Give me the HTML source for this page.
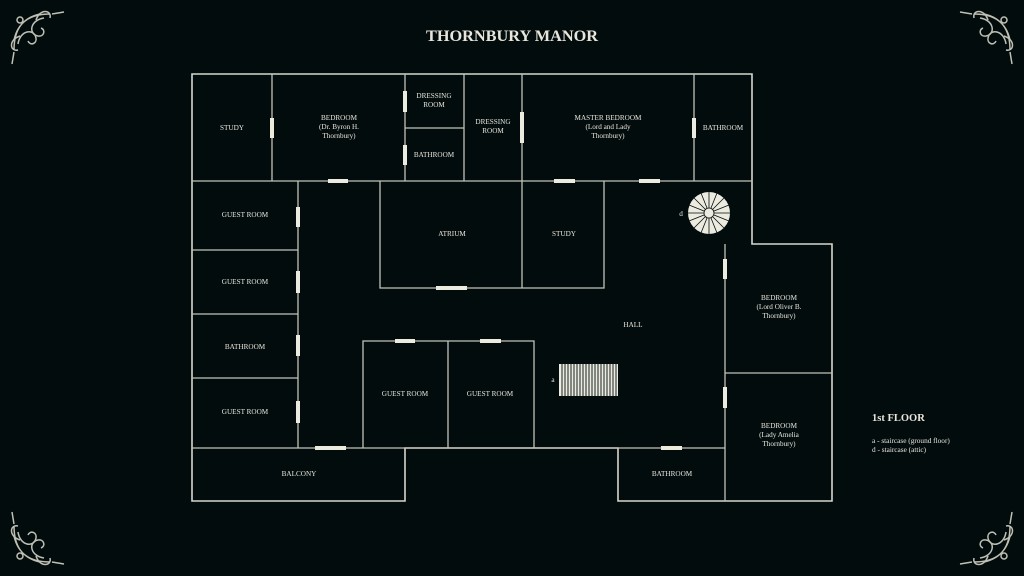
<!DOCTYPE html>
<html><head><meta charset="utf-8"><style>
html,body{margin:0;padding:0;background:#030c0d;}
svg{display:block}
text{font-family:"Liberation Serif",serif;fill:#e8e6dc;}
</style></head><body>
<svg width="1024" height="576" viewBox="0 0 1024 576" xmlns="http://www.w3.org/2000/svg">
<rect width="1024" height="576" fill="#030c0d"/>
<g id="orn" fill="none" stroke="#bfc0b4" stroke-width="1.5">
<path d="M14 50 C14 30 22 18 40 14 M50 14 C30 14 18 22 14 40"/>
<path d="M18 44 C20 30 34 28 36 38 C37 44 30 46 28 41"/>
<path d="M44 18 C30 20 28 34 38 36 C44 37 46 30 41 28"/>
<circle cx="20" cy="20" r="3"/>
<path d="M14 52 L12 64 M52 14 L64 12"/>
<path d="M20 36 C8 40 10 52 18 50 M36 20 C40 8 52 10 50 18"/>
</g>
<use href="#orn" transform="translate(1024,0) scale(-1,1)"/>
<use href="#orn" transform="translate(0,576) scale(1,-1)"/>
<use href="#orn" transform="translate(1024,576) scale(-1,-1)"/>

<text x="512" y="41" text-anchor="middle" font-size="16.3" font-weight="bold">THORNBURY MANOR</text>

<g fill="none" stroke="#c2c2b8" stroke-width="1.3">
<path d="M192 74 H752 V244 H832 V501 H618 V448 H405 V501 H192 Z" stroke="#d6d6cc" stroke-width="1.6"/>
<path d="M192 181 H752"/>
<path d="M272 74 V181 M405 74 V181 M464 74 V181 M522 74 V181 M694 74 V181 M405 128 H464"/>
<path d="M298 181 V448 M192 250 H298 M192 314 H298 M192 378 H298 M192 448 H725"/>
<path d="M380 181 V288 H604 V181 M522 181 V288"/>
<path d="M363 448 V341 H534 V448 M448 341 V448"/>
<path d="M725 244 V501 M725 373 H832"/>
</g>
<g fill="#ecebdf">
<rect x="270" y="118" width="4" height="20"/>
<rect x="403" y="91" width="4" height="21"/>
<rect x="403" y="145" width="4" height="20"/>
<rect x="520" y="112" width="4" height="31"/>
<rect x="692" y="118" width="4" height="20"/>
<rect x="328" y="179" width="20" height="4"/>
<rect x="554" y="179" width="21" height="4"/>
<rect x="639" y="179" width="21" height="4"/>
<rect x="296" y="207" width="4" height="20"/>
<rect x="296" y="271" width="4" height="22"/>
<rect x="296" y="335" width="4" height="21"/>
<rect x="296" y="401" width="4" height="22"/>
<rect x="315" y="446" width="31" height="4"/>
<rect x="436" y="286" width="31" height="4"/>
<rect x="395" y="339" width="20" height="4"/>
<rect x="480" y="339" width="21" height="4"/>
<rect x="723" y="259" width="4" height="20"/>
<rect x="723" y="387" width="4" height="21"/>
<rect x="661" y="446" width="21" height="4"/>
</g>
<circle cx="709" cy="213" r="21" fill="#ecebdf"/>
<g stroke="#030c0d" stroke-width="0.8">
<path d="M709 192 V234 M688 213 H730 M694 198 L724 228 M724 198 L694 228 M701 193 L717 233 M717 193 L701 233 M689 205 L729 221 M689 221 L729 205"/>
</g>
<circle cx="709" cy="213" r="5" fill="#ecebdf" stroke="#030c0d" stroke-width="0.8"/>
<rect x="559" y="364" width="59" height="32" fill="#ecebdf"/>
<g stroke="#030c0d" stroke-width="0.9">
<path d="M562 364V396M565 364V396M568 364V396M571 364V396M574 364V396M577 364V396M580 364V396M583 364V396M586 364V396M589 364V396M592 364V396M595 364V396M598 364V396M601 364V396M604 364V396M607 364V396M610 364V396M613 364V396M616 364V396"/>
</g>
<g font-size="7.2" text-anchor="middle">
<text x="232" y="130">STUDY</text>
<text x="339" y="120">BEDROOM</text><text x="339" y="129">(Dr. Byron H.</text><text x="339" y="138">Thornbury)</text>
<text x="434" y="98">DRESSING</text><text x="434" y="107">ROOM</text>
<text x="434" y="157">BATHROOM</text>
<text x="493" y="124">DRESSING</text><text x="493" y="133">ROOM</text>
<text x="608" y="120">MASTER BEDROOM</text><text x="608" y="129">(Lord and Lady</text><text x="608" y="138">Thornbury)</text>
<text x="723" y="130">BATHROOM</text>
<text x="245" y="217">GUEST ROOM</text>
<text x="245" y="284">GUEST ROOM</text>
<text x="245" y="349">BATHROOM</text>
<text x="245" y="414">GUEST ROOM</text>
<text x="452" y="236">ATRIUM</text>
<text x="564" y="236">STUDY</text>
<text x="633" y="327">HALL</text>
<text x="405" y="396">GUEST ROOM</text>
<text x="490" y="396">GUEST ROOM</text>
<text x="299" y="476">BALCONY</text>
<text x="672" y="476">BATHROOM</text>
<text x="779" y="300">BEDROOM</text><text x="779" y="309">(Lord Oliver B.</text><text x="779" y="318">Thornbury)</text>
<text x="779" y="428">BEDROOM</text><text x="779" y="437">(Lady Amelia</text><text x="779" y="446">Thornbury)</text>
<text x="681" y="216">d</text>
<text x="553" y="382">a</text>
</g>
<text x="872" y="421" font-size="10.5" font-weight="bold">1st FLOOR</text>
<text x="872" y="443" font-size="7.3">a - staircase (ground floor)</text>
<text x="872" y="452" font-size="7.3">d - staircase (attic)</text>
</svg>
</body></html>
